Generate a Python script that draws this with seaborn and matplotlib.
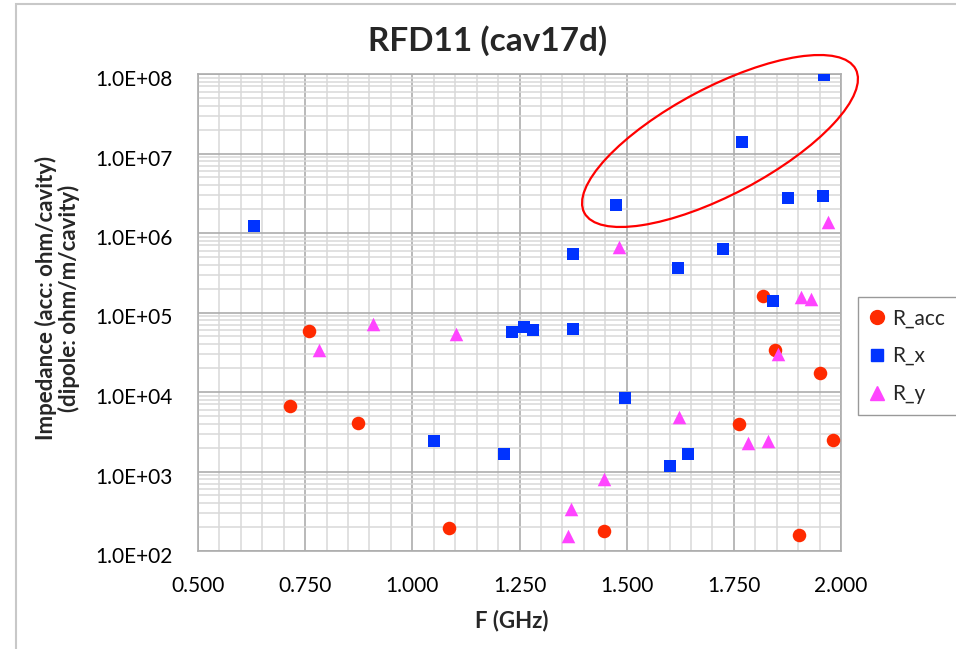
import matplotlib
matplotlib.use("Agg")
import matplotlib.pyplot as plt
import matplotlib.ticker as mticker
from matplotlib.patches import Ellipse, Rectangle
from matplotlib.transforms import ScaledTranslation
from matplotlib.lines import Line2D
import numpy as np
import pandas as pd
import seaborn as sns

# Monopole (accelerating) impedance
acc_f = [0.715, 0.759, 0.874, 1.086, 1.448, 1.761, 1.817, 1.845, 1.951, 1.981, 1.902]
acc_z = [6.7e3, 5.85e4, 4.07e3, 195, 179, 3.95e3, 1.61e5, 3.37e4, 1.73e4, 2.49e3, 159]

# Horizontal dipole impedance
x_f = [0.631, 1.474, 1.768, 1.960, 1.876, 1.958, 1.374, 1.619, 1.724, 1.841,
       1.233, 1.261, 1.282, 1.374, 1.495, 1.051, 1.215, 1.600, 1.642]
x_z = [1.22e6, 2.25e6, 1.4e7, 9.7e7, 2.75e6, 2.92e6, 5.45e5, 3.63e5, 6.3e5, 1.4e5,
       5.7e4, 6.6e4, 6.0e4, 6.2e4, 8.4e3, 2.42e3, 1.66e3, 1.17e3, 1.66e3]

# Vertical dipole impedance
y_f = [0.783, 0.909, 1.103, 1.481, 1.969, 1.906, 1.929, 1.852, 1.621, 1.782,
       1.829, 1.448, 1.371, 1.362]
y_z = [3.37e4, 7.2e4, 5.4e4, 6.7e5, 1.37e6, 1.57e5, 1.48e5, 3.0e4, 4.85e3, 2.28e3,
       2.42e3, 806, 337, 155]

series_names = ["R_acc", "R_x", "R_y"]
x_ticks = [0.5, 0.75, 1.0, 1.25, 1.5, 1.75, 2.0]
y_ticks = [1e2, 1e3, 1e4, 1e5, 1e6, 1e7, 1e8]

df = pd.concat([
    pd.DataFrame({"F": acc_f, "Z": acc_z, "series": "R_acc"}),
    pd.DataFrame({"F": x_f, "Z": x_z, "series": "R_x"}),
    pd.DataFrame({"F": y_f, "Z": y_z, "series": "R_y"}),
], ignore_index=True)

sns.set_theme(style="white")
plt.rcParams["font.family"] = ["Lato", "DejaVu Sans"]

fig = plt.figure(figsize=(9.56, 6.49), dpi=100)
ax = fig.add_axes([198 / 956, 1 - 551 / 649, 643 / 956, 477 / 649])

colors = {"R_acc": "#ff2a00", "R_x": "#0033ff", "R_y": "#ff44ff"}
markers = {"R_acc": "o", "R_x": "s", "R_y": "^"}
sizes = {"R_acc": 95, "R_x": 72, "R_y": 95}

for name in series_names:
    sub = df[df["series"] == name]
    sns.scatterplot(data=sub, x="F", y="Z", ax=ax, color=colors[name],
                    marker=markers[name], s=sizes[name], linewidth=0,
                    zorder=3, legend=False)

ax.set_yscale("log")
ax.set_xlim(0.5, 2.0)
ax.set_ylim(1e2, 1e8)

ax.set_xticks(x_ticks)
ax.xaxis.set_major_formatter(mticker.FuncFormatter(lambda v, p: f"{v:.3f}"))
ax.xaxis.set_minor_locator(mticker.MultipleLocator(0.05))
ax.set_yticks(y_ticks)
ax.yaxis.set_major_formatter(mticker.FuncFormatter(lambda v, p: f"{v:.1E}"))
ax.yaxis.set_minor_locator(mticker.LogLocator(base=10, subs=np.arange(2, 10)))
ax.yaxis.set_minor_formatter(mticker.NullFormatter())

ax.grid(which="major", color="#adadad", linewidth=1.2)
ax.grid(which="minor", color="#d8d8d8", linewidth=1.1)
ax.set_axisbelow(True)
for sp in ax.spines.values():
    sp.set_color("#adadad")
    sp.set_linewidth(1.2)

ax.tick_params(axis="both", which="both", length=0, labelsize=15, colors="black")
ax.tick_params(axis="x", pad=18)
ax.tick_params(axis="y", pad=18)
for lab in ax.get_yticklabels():
    lab.set_transform(lab.get_transform() + ScaledTranslation(0, -0.04, fig.dpi_scale_trans))

ax.set_xlabel("F (GHz)", fontsize=16, fontweight="bold")
ax.xaxis.set_label_coords((512 - 198) / 643, -(610 - 551) / 477)
ax.set_ylabel("Impedance (acc: ohm/cavity)\n(dipole: ohm/m/cavity)",
              fontsize=16, fontweight="bold", linespacing=1.05)
ax.yaxis.set_label_coords((80 - 198) / 643, (551 - 298) / 477)

fig.text(488 / 956, 1 - 41 / 649, "RFD11 (cav17d)", fontsize=24, fontweight="bold",
         ha="center", va="center")

handles = [Line2D([], [], linestyle="none", marker=markers[n], color=colors[n],
                  markersize=10 if n != "R_x" else 8, label=n) for n in series_names]
leg = fig.legend(handles=handles, loc="upper left",
                 bbox_to_anchor=(858 / 956, 1 - 297 / 649), fontsize=15,
                 frameon=True, fancybox=False, edgecolor="#808080",
                 handlelength=0.7, handletextpad=0.4, labelspacing=0.85,
                 borderpad=0.55, borderaxespad=0)
leg.get_frame().set_linewidth(1.0)

# highlight around the strongest horizontal-dipole modes
ring = Ellipse((7.20, 5.08), 3.07, 1.07, angle=27.9, transform=fig.dpi_scale_trans,
               fill=False, edgecolor="#ff0000", linewidth=1.6, zorder=5)
fig.add_artist(ring)

# chart-area border
frame = Rectangle((16 / 956, -0.05), 1.2, 1 - 4 / 649 + 0.05, transform=fig.transFigure,
                  fill=False, edgecolor="#c8c8c8", linewidth=1.5)
fig.add_artist(frame)

fig.savefig("out.png", dpi=100)
